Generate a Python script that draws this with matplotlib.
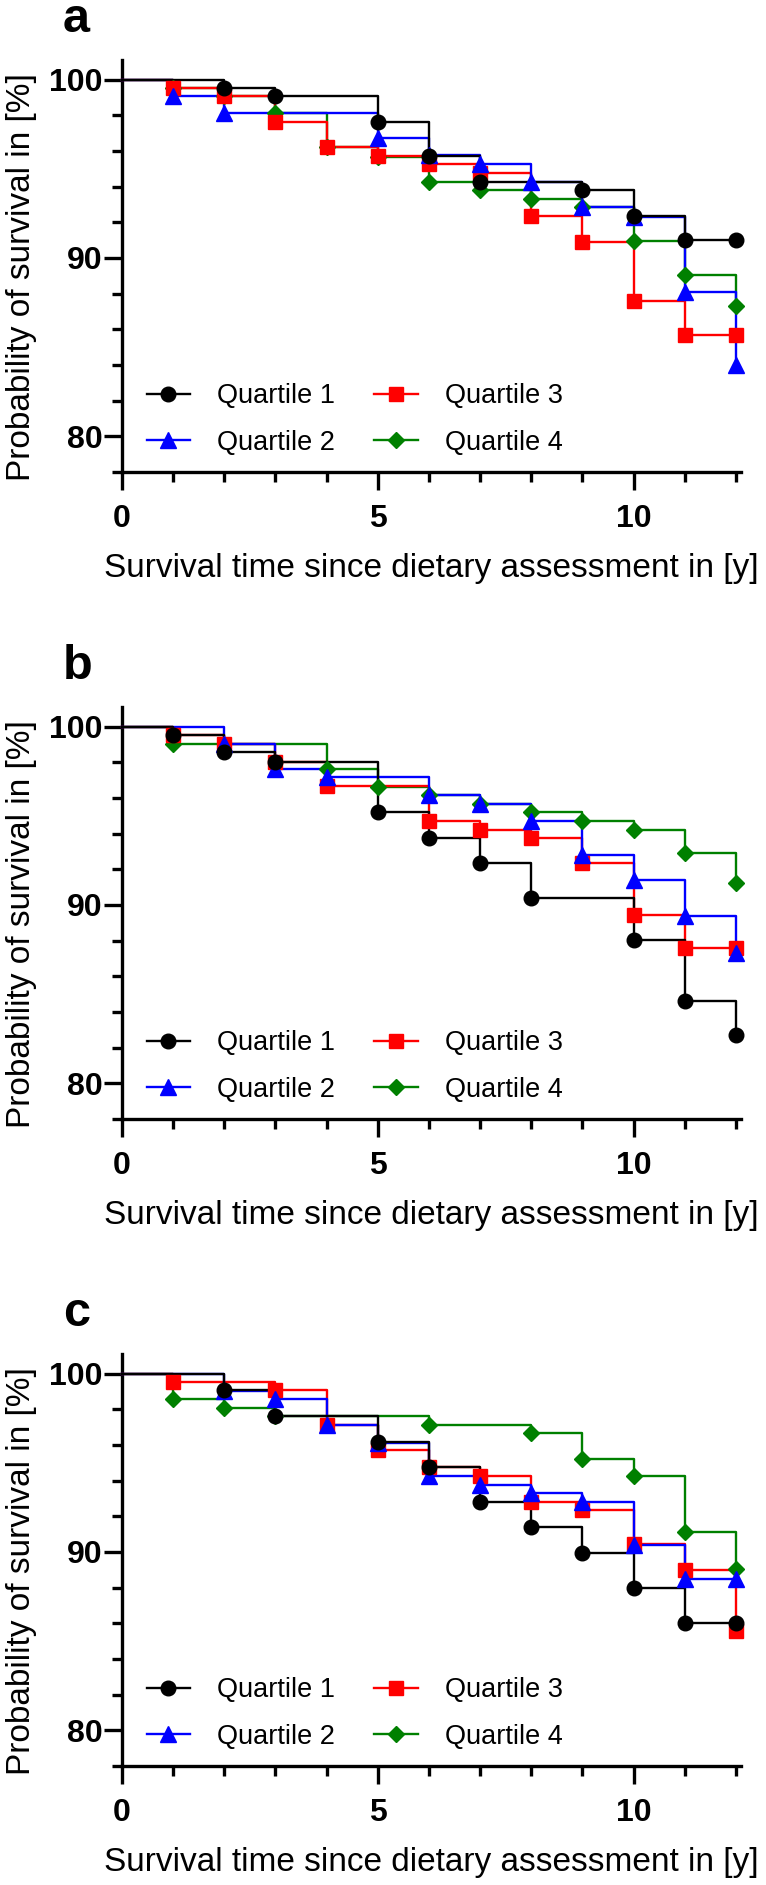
import matplotlib
matplotlib.use("Agg")
import matplotlib.pyplot as plt
from matplotlib.ticker import MultipleLocator

plt.rcParams['font.family'] = ['Liberation Sans', 'DejaVu Sans']

years = list(range(13))

# survival (%) at the end of each year
a_q1 = [100, 100, 99.53, 99.06, 99.06, 97.62, 95.72, 94.28, 94.28, 93.80, 92.35, 91.03, 91.03]
a_q2 = [100, 99.10, 98.12, 98.12, 98.12, 96.75, 95.78, 95.25, 94.28, 92.83, 92.30, 88.10, 84.00]
a_q3 = [100, 99.53, 99.06, 97.65, 96.20, 95.74, 95.25, 94.78, 92.35, 90.90, 87.56, 85.70, 85.70]
a_q4 = [100, 99.53, 99.06, 98.12, 96.20, 95.68, 94.28, 93.80, 93.30, 92.85, 90.95, 89.06, 87.33]

b_q1 = [100, 99.53, 98.55, 98.04, 98.04, 95.20, 93.76, 92.33, 90.40, 90.40, 88.04, 84.60, 82.70]
b_q2 = [100, 100, 99.03, 97.63, 97.15, 97.15, 96.15, 95.66, 94.72, 92.81, 91.40, 89.40, 87.30]
b_q3 = [100, 99.53, 99.03, 98.04, 96.65, 96.65, 94.70, 94.23, 93.76, 92.33, 89.42, 87.60, 87.60]
b_q4 = [100, 99.03, 99.03, 99.03, 97.62, 96.60, 96.15, 95.66, 95.20, 94.70, 94.23, 92.92, 91.25]

c_q1 = [100, 100, 99.07, 97.62, 97.62, 96.18, 94.75, 92.80, 91.38, 89.96, 88.00, 86.03, 86.03]
c_q2 = [100, 100, 99.00, 98.57, 97.13, 96.10, 94.28, 93.78, 93.30, 92.80, 90.40, 88.50, 88.50]
c_q3 = [100, 99.53, 99.53, 99.07, 97.10, 95.74, 94.75, 94.28, 92.80, 92.33, 90.47, 89.00, 85.55]
c_q4 = [100, 98.57, 98.06, 97.62, 97.62, 97.62, 97.13, 97.13, 96.65, 95.20, 94.28, 91.12, 89.07]

panels = ["a", "b", "c"]
panel_data = [[a_q1, a_q2, a_q3, a_q4], [b_q1, b_q2, b_q3, b_q4], [c_q1, c_q2, c_q3, c_q4]]
labels = ["Quartile 1", "Quartile 2", "Quartile 3", "Quartile 4"]
colors = ["black", "#0000ff", "#ff0000", "#008000"]
markers = ["o", "^", "s", "D"]
msizes = [10.5, 11.5, 9.5, 8.5]

W, H = 766, 1885
fig = plt.figure(figsize=(W / 100, H / 100), dpi=100)

ax_left, ax_right = 122, 741
tops = [60, 707, 1354]
ax_h = 412

for k in range(3):
    top = tops[k]
    ax = fig.add_axes([ax_left / W, 1 - (top + ax_h) / H, (ax_right - ax_left) / W, ax_h / H])
    # Q4 at the bottom, Q1 on top
    for i in [3, 2, 1, 0]:
        vals = panel_data[k][i]
        ax.step(years, vals, where='post', color=colors[i], lw=1.7, zorder=2 + (3 - i), clip_on=False)
        mx = [years[j] for j in range(1, 13) if vals[j] != vals[j - 1] or j == 12]
        my = [vals[j] for j in range(1, 13) if vals[j] != vals[j - 1] or j == 12]
        ax.plot(mx, my, ls='none', marker=markers[i], ms=msizes[i], color=colors[i],
                zorder=6 + (3 - i), clip_on=False)

    ax.set_xlim(0, 12.1)
    ax.set_ylim(78, 101.1)
    ax.spines['top'].set_visible(False)
    ax.spines['right'].set_visible(False)
    for s in ['left', 'bottom']:
        ax.spines[s].set_linewidth(2.4)
    ax.xaxis.set_major_locator(MultipleLocator(5))
    ax.xaxis.set_minor_locator(MultipleLocator(1))
    ax.yaxis.set_major_locator(MultipleLocator(10))
    ax.yaxis.set_minor_locator(MultipleLocator(2))
    ax.tick_params(which='major', length=13, width=2.4, direction='out')
    ax.tick_params(which='minor', length=7, width=2.4, direction='out')
    ax.tick_params(axis='x', which='major', pad=10)
    ax.tick_params(axis='y', which='major', pad=1)
    for t in ax.get_xticklabels() + ax.get_yticklabels():
        t.set_fontsize(23)
        t.set_fontweight('bold')

    ax.set_xlabel("Survival time since dietary assessment in [y]", fontsize=24, labelpad=14)
    ax.set_ylabel("Probability of survival in [%]", fontsize=24)
    ax.yaxis.set_label_coords(-0.138, 0.473)

    handles = [plt.Line2D([], [], color=colors[i], lw=1.7, marker=markers[i], ms=msizes[i])
               for i in range(4)]
    ax.legend(handles, labels, ncol=2, loc='lower left', bbox_to_anchor=(0.04, 0.04),
              frameon=False, fontsize=19.5, handlelength=1.6, handletextpad=1.0,
              columnspacing=1.45, labelspacing=0.75, borderpad=0, borderaxespad=0)

    fig.text(63 / W, 1 - (32 + 647 * k) / H, panels[k], fontsize=35, fontweight='bold',
             ha='left', va='baseline')

fig.savefig("out.png", dpi=100)
